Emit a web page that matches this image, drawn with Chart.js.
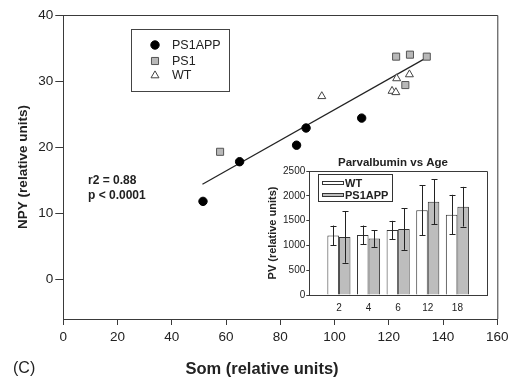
<!DOCTYPE html>
<html>
<head>
<meta charset="utf-8">
<script src="https://cdn.jsdelivr.net/npm/chart.js@4.4.1/dist/chart.umd.min.js"></script>
<style>
  html, body { margin: 0; padding: 0; background: #fff; }
  #wrap { position: relative; width: 515px; height: 385px; }
  #mainChart { position: absolute; left: 0; top: 0; }
  #insetChart { position: absolute; left: 262px; top: 152px; background: #fff; }
</style>
</head>
<body>
<div id="wrap">
  <canvas id="mainChart" width="515" height="385"></canvas>
  <canvas id="insetChart" width="230" height="164"></canvas>
</div>
<script>
// main scatter: Som vs NPY
const ps1appSom = [51.5, 65, 86, 89.5, 110];
const ps1appNpy = [11.8, 17.8, 20.3, 22.9, 24.4];
const ps1Som = [57.8, 122.7, 127.8, 134, 126.1];
const ps1Npy = [19.3, 33.7, 34.0, 33.7, 29.4];
const wtSom = [95.3, 122.9, 127.6, 121.2, 122.6];
const wtNpy = [27.7, 30.4, 31.0, 28.5, 28.3];
// regression line end points
const fitSom = [51.3, 134.6];
const fitNpy = [14.4, 33.7];
const somTicks = [0, 20, 40, 60, 80, 100, 120, 140, 160];
const npyTicks = [0, 10, 20, 30, 40];
const statsLines = ['r2 = 0.88', 'p < 0.0001'];

// inset: parvalbumin vs age
const ages = ['2', '4', '6', '12', '18'];
const wtPV = [1200, 1210, 1310, 1710, 1620];
const wtErr = [200, 190, 185, 500, 400];
const ps1appPV = [1170, 1140, 1330, 1880, 1780];
const ps1appErr = [520, 170, 420, 450, 400];
const pvTicks = [0, 500, 1000, 1500, 2000, 2500];

const FONT = "'Liberation Sans', Arial, Helvetica, sans-serif";
const AXIS = '#3a3a3a';
const TEXT = '#222';

function pts(xs, ys) {
    return xs.map((x, i) => ({ x: x, y: ys[i] }));
}

function drawMarker(ctx, ds, x, y) {
    const r = ds.pointRadius;
    ctx.save();
    ctx.fillStyle = ds.backgroundColor;
    ctx.strokeStyle = ds.borderColor;
    ctx.lineWidth = ds.borderWidth || 1;
    ctx.beginPath();
    if (ds.pointStyle === 'circle') {
        ctx.arc(x, y, r, 0, Math.PI * 2);
    } else if (ds.pointStyle === 'rect') {
        const h = r * Math.SQRT1_2;
        ctx.rect(x - h, y - h, 2 * h, 2 * h);
    } else {
        let a = 0;
        ctx.moveTo(x + Math.sin(a) * r, y - Math.cos(a) * r);
        a += Math.PI * 2 / 3;
        ctx.lineTo(x + Math.sin(a) * r, y - Math.cos(a) * r);
        a += Math.PI * 2 / 3;
        ctx.lineTo(x + Math.sin(a) * r, y - Math.cos(a) * r);
        ctx.closePath();
    }
    ctx.fill();
    ctx.stroke();
    ctx.restore();
}

const mainDecor = {
    id: 'mainDecor',
    afterDraw(chart) {
        const ctx = chart.ctx;
        const a = chart.chartArea;
        ctx.save();
        // top and right frame
        ctx.strokeStyle = AXIS;
        ctx.lineWidth = 1;
        ctx.beginPath();
        ctx.moveTo(a.left, a.top + 0.5);
        ctx.lineTo(a.right + 0.5, a.top + 0.5);
        ctx.lineTo(a.right + 0.5, a.bottom);
        ctx.stroke();

        // legend box
        ctx.strokeStyle = '#444';
        ctx.strokeRect(131.5, 29.5, 98, 62);
        ctx.font = '12.5px ' + FONT;
        ctx.fillStyle = TEXT;
        ctx.textBaseline = 'middle';
        ctx.textAlign = 'left';
        const rows = [45, 61, 75.5];
        chart.data.datasets.slice(0, 3).forEach((ds, i) => {
            drawMarker(ctx, ds, 155, rows[i]);
            ctx.fillText(ds.label, 172, rows[i] + 0.5);
        });

        // stats
        ctx.font = 'bold 12px ' + FONT;
        ctx.fillText(statsLines[0], 88, 181);
        ctx.fillText(statsLines[1], 88, 195.5);

        // panel label and x title
        ctx.font = '16px ' + FONT;
        ctx.fillText('(C)', 13, 369);
        ctx.font = 'bold 16.5px ' + FONT;
        ctx.textAlign = 'center';
        ctx.fillText('Som (relative units)', 262, 369);
        ctx.restore();
    }
};

new Chart(document.getElementById('mainChart').getContext('2d'), {
    type: 'scatter',
    data: {
        datasets: [{
            label: 'PS1APP',
            data: pts(ps1appSom, ps1appNpy),
            pointStyle: 'circle',
            pointRadius: 4.2,
            backgroundColor: '#000',
            borderColor: '#000',
            borderWidth: 1
        }, {
            label: 'PS1',
            data: pts(ps1Som, ps1Npy),
            pointStyle: 'rect',
            pointRadius: 5,
            backgroundColor: '#b8b8b8',
            borderColor: '#555',
            borderWidth: 1
        }, {
            label: 'WT',
            data: pts(wtSom, wtNpy),
            pointStyle: 'triangle',
            pointRadius: 4.6,
            backgroundColor: '#fff',
            borderColor: '#444',
            borderWidth: 1
        }, {
            label: 'fit',
            data: pts(fitSom, fitNpy),
            showLine: true,
            pointRadius: 0,
            borderColor: '#222',
            borderWidth: 1.2
        }]
    },
    options: {
        responsive: false,
        animation: false,
        devicePixelRatio: 1,
        layout: { padding: { top: 15, right: 17.7, left: 0, bottom: 0 } },
        plugins: { legend: { display: false }, tooltip: { enabled: false } },
        scales: {
            x: {
                type: 'linear',
                min: 0,
                max: 160,
                afterBuildTicks: s => { s.ticks = somTicks.map(v => ({ value: v })); },
                afterFit: s => { s.height = 66; },
                grid: { drawOnChartArea: false, tickLength: 6, color: AXIS },
                border: { display: true, color: AXIS },
                ticks: { color: TEXT, padding: 4, font: { family: FONT, size: 13.5 }, maxRotation: 0 }
            },
            y: {
                type: 'linear',
                min: -6,
                max: 40,
                afterBuildTicks: s => { s.ticks = npyTicks.map(v => ({ value: v })); },
                afterFit: s => { s.width = 63.3; },
                grid: { drawOnChartArea: false, tickLength: 8, color: AXIS },
                border: { display: true, color: AXIS },
                ticks: { color: TEXT, padding: 2, font: { family: FONT, size: 13.5 } },
                title: {
                    display: true,
                    text: 'NPY (relative units)',
                    color: TEXT,
                    padding: { top: 15, bottom: 0 },
                    font: { family: FONT, size: 13.5, weight: 'bold' }
                }
            }
        }
    },
    plugins: [mainDecor]
});

// inset bar chart
const insetDecor = {
    id: 'insetDecor',
    afterDatasetsDraw(chart) {
        const ctx = chart.ctx;
        const ys = chart.scales.y;
        ctx.save();
        ctx.strokeStyle = '#222';
        ctx.lineWidth = 1;
        chart.data.datasets.forEach((ds, i) => {
            const meta = chart.getDatasetMeta(i);
            meta.data.forEach((bar, j) => {
                const v = ds.data[j].y;
                const e = ds.errors[j];
                const t = ys.getPixelForValue(v + e);
                const b = ys.getPixelForValue(v - e);
                const x = Math.round(bar.x) + 0.5;
                ctx.beginPath();
                ctx.moveTo(x, t);
                ctx.lineTo(x, b);
                ctx.moveTo(x - 3, Math.round(t) + 0.5);
                ctx.lineTo(x + 3, Math.round(t) + 0.5);
                ctx.moveTo(x - 3, Math.round(b) + 0.5);
                ctx.lineTo(x + 3, Math.round(b) + 0.5);
                ctx.stroke();
            });
        });
        ctx.restore();
    },
    afterDraw(chart) {
        const ctx = chart.ctx;
        const a = chart.chartArea;
        ctx.save();
        ctx.strokeStyle = AXIS;
        ctx.lineWidth = 1;
        ctx.beginPath();
        ctx.moveTo(a.left, a.top + 0.5);
        ctx.lineTo(a.right + 0.5, a.top + 0.5);
        ctx.lineTo(a.right + 0.5, a.bottom);
        ctx.stroke();

        // title
        ctx.fillStyle = TEXT;
        ctx.font = 'bold 11.5px ' + FONT;
        ctx.textAlign = 'center';
        ctx.textBaseline = 'middle';
        ctx.fillText('Parvalbumin vs Age', 131, 11);

        // legend
        ctx.strokeStyle = '#333';
        ctx.strokeRect(56.5, 22.5, 74, 27);
        ctx.textAlign = 'left';
        ctx.font = 'bold 11px ' + FONT;
        const rows = [31, 43];
        chart.data.datasets.forEach((ds, i) => {
            ctx.fillStyle = ds.backgroundColor;
            ctx.fillRect(60, rows[i] - 2, 22, 4);
            ctx.strokeStyle = ds.borderColor;
            ctx.strokeRect(60.5, rows[i] - 1.5, 21, 3);
            ctx.fillStyle = TEXT;
            ctx.fillText(ds.label, 83, rows[i] + 0.5);
        });
        ctx.restore();
    }
};

new Chart(document.getElementById('insetChart').getContext('2d'), {
    type: 'bar',
    data: {
        datasets: [{
            label: 'WT',
            data: ages.map((a, i) => ({ x: i + 1, y: wtPV[i] })),
            errors: wtErr,
            backgroundColor: '#fff',
            borderColor: '#333',
            borderWidth: 1
        }, {
            label: 'PS1APP',
            data: ages.map((a, i) => ({ x: i + 1, y: ps1appPV[i] })),
            errors: ps1appErr,
            backgroundColor: '#bdbdbd',
            borderColor: '#333',
            borderWidth: 1
        }]
    },
    options: {
        responsive: false,
        animation: false,
        devicePixelRatio: 1,
        categoryPercentage: 0.78,
        barPercentage: 1.0,
        layout: { padding: { top: 19, right: 5, left: 0, bottom: 0 } },
        plugins: { legend: { display: false }, tooltip: { enabled: false } },
        scales: {
            x: {
                type: 'linear',
                min: 0,
                max: 6,
                offset: false,
                afterBuildTicks: s => { s.ticks = ages.map((a, i) => ({ value: i + 1 })); },
                afterFit: s => { s.height = 21; },
                grid: { display: false, drawTicks: false },
                border: { display: true, color: AXIS },
                ticks: {
                    color: TEXT,
                    padding: 7,
                    font: { family: FONT, size: 10 },
                    callback: v => ages[v - 1] || ''
                }
            },
            y: {
                min: 0,
                max: 2500,
                afterBuildTicks: s => { s.ticks = pvTicks.map(v => ({ value: v })); },
                afterFit: s => { s.width = 47.3; },
                grid: { drawOnChartArea: false, tickLength: 3, color: AXIS },
                border: { display: true, color: AXIS },
                ticks: { color: TEXT, padding: 1, font: { family: FONT, size: 10 }, callback: v => String(v) },
                title: {
                    display: true,
                    text: 'PV (relative units)',
                    color: TEXT,
                    padding: { top: 4.5, bottom: 0 },
                    font: { family: FONT, size: 11, weight: 'bold' }
                }
            }
        }
    },
    plugins: [insetDecor]
});
</script>
</body>
</html>
